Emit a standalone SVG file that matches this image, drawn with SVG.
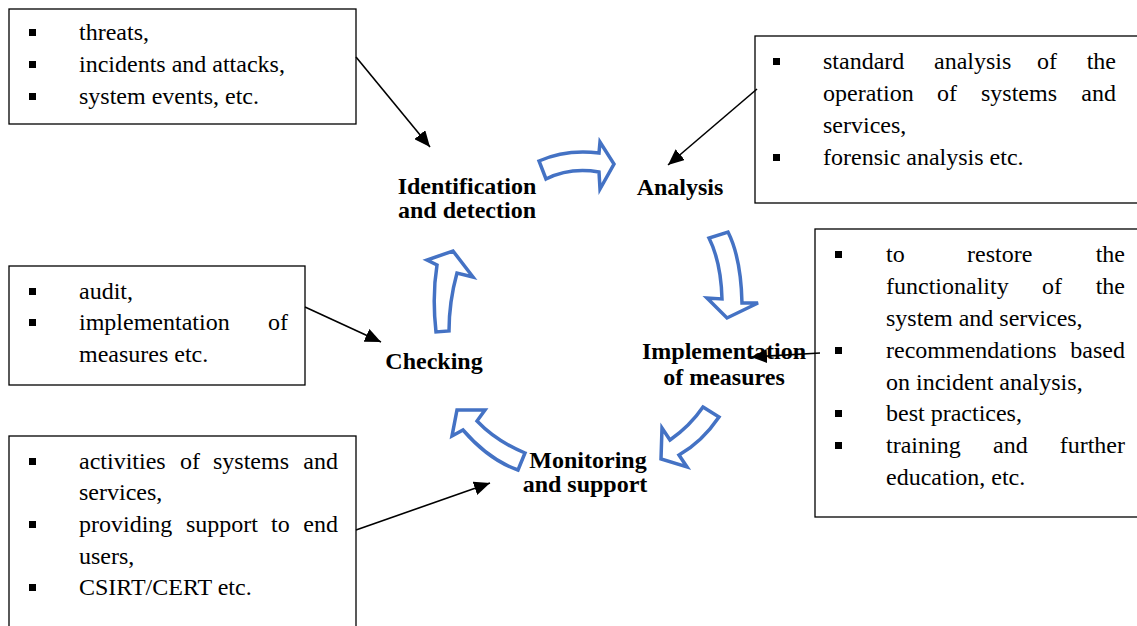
<svg xmlns="http://www.w3.org/2000/svg" width="1137" height="626" viewBox="0 0 1137 626">
  <style>
    .box { fill: #ffffff; stroke: #000000; stroke-width: 1.3; }
    .t { font-family: "Liberation Serif", "Times New Roman", serif; font-size: 24px; fill: #000000; }
    .e { text-anchor: end; }
    .lbl { font-family: "Liberation Serif", "Times New Roman", serif; font-size: 24px; font-weight: bold; fill: #000000; text-anchor: middle; }
    .blk { fill: #ffffff; stroke: #4472C4; stroke-width: 3.5; stroke-linejoin: miter; }
    .con { fill: none; stroke: #000000; stroke-width: 1.6; marker-end: url(#ah); }
  </style>
  <defs>
    <marker id="ah" markerUnits="userSpaceOnUse" markerWidth="18" markerHeight="14" refX="16" refY="7" orient="auto">
      <path d="M0,0 L16,7 L0,14 Z" fill="#000000"/>
    </marker>
    <rect id="bul" width="7" height="7" fill="#000000"/>
  </defs>
  <rect width="1137" height="626" fill="#ffffff"/>

  <!-- cycle block arrows -->
  <g id="cycle">
    <path class="blk" d="M539,161 Q566,149 599,153 L600,142 L614,164 L600,189 L599,172 Q570,167 546,179 Z"/>
    <path class="blk" d="M709,238 Q721,262 722,299 L707,298 L727,318 L758,303 L742,303 Q741,258 728,232 Z"/>
    <path class="blk" d="M703,407 L719,417 Q702,442 679,455 L687,467 L661,459 L662,428 L670,440 Q690,426 703,407 Z"/>
    <path class="blk" d="M525,453 Q496,441 477,421 L485,410 L457,410 L452,436 L463,430 Q489,460 518,470 Z"/>
    <path class="blk" d="M436,332 Q432,296 437,265 L427,260 L453,251 L473,277 L457,273 Q449,302 449,331 Z"/>
  </g>

  <!-- stage labels -->
  <g id="identification">
    <text class="lbl" x="467" y="194">Identification</text>
    <text class="lbl" x="467" y="218">and detection</text>
  </g>
  <g id="analysis">
    <text class="lbl" x="680" y="195">Analysis</text>
  </g>
  <g id="implementation">
    <text class="lbl" x="724" y="359">Implementation</text>
    <text class="lbl" x="724" y="385">of measures</text>
  </g>
  <g id="monitoring">
    <text class="lbl" x="588" y="468">Monitoring</text>
    <text class="lbl" x="585" y="492">and support</text>
  </g>
  <g id="checking">
    <text class="lbl" x="434" y="369">Checking</text>
  </g>

  <!-- note: identification inputs -->
  <g id="note-identification">
    <rect class="box" x="9" y="9" width="347" height="115"/>
    <use href="#bul" x="29" y="29"/>
    <use href="#bul" x="29" y="61"/>
    <use href="#bul" x="29" y="93"/>
    <text class="t" x="79" y="40">threats,</text>
    <text class="t" x="79" y="72">incidents and attacks,</text>
    <text class="t" x="79" y="104">system events, etc.</text>
  </g>

  <!-- note: analysis -->
  <g id="note-analysis">
    <rect class="box" x="755" y="36" width="390" height="167"/>
    <use href="#bul" x="773" y="58"/>
    <use href="#bul" x="773" y="154"/>
    <text class="t" x="823" y="69">standard</text>
    <text class="t" x="934" y="69">analysis</text>
    <text class="t" x="1037" y="69">of</text>
    <text class="t e" x="1116" y="69">the</text>
    <text class="t" x="823" y="101">operation</text>
    <text class="t" x="937" y="101">of</text>
    <text class="t" x="981" y="101">systems</text>
    <text class="t e" x="1116" y="101">and</text>
    <text class="t" x="823" y="133">services,</text>
    <text class="t" x="823" y="165">forensic analysis etc.</text>
  </g>

  <!-- note: implementation of measures -->
  <g id="note-implementation">
    <rect class="box" x="815" y="229" width="330" height="288"/>
    <use href="#bul" x="835" y="251"/>
    <use href="#bul" x="835" y="347"/>
    <use href="#bul" x="835" y="410"/>
    <use href="#bul" x="835" y="442"/>
    <text class="t" x="886" y="262">to</text>
    <text class="t" x="967" y="262">restore</text>
    <text class="t e" x="1125" y="262">the</text>
    <text class="t" x="886" y="294">functionality</text>
    <text class="t" x="1042" y="294">of</text>
    <text class="t e" x="1125" y="294">the</text>
    <text class="t" x="886" y="326">system and services,</text>
    <text class="t" x="886" y="358">recommendations</text>
    <text class="t e" x="1125" y="358">based</text>
    <text class="t" x="886" y="390">on incident analysis,</text>
    <text class="t" x="886" y="421">best practices,</text>
    <text class="t" x="886" y="453">training</text>
    <text class="t" x="993" y="453">and</text>
    <text class="t e" x="1125" y="453">further</text>
    <text class="t" x="886" y="485">education, etc.</text>
  </g>

  <!-- note: checking -->
  <g id="note-checking">
    <rect class="box" x="9" y="266" width="296" height="119"/>
    <use href="#bul" x="29" y="288"/>
    <use href="#bul" x="29" y="319"/>
    <text class="t" x="79" y="299">audit,</text>
    <text class="t" x="79" y="330">implementation</text>
    <text class="t e" x="288" y="330">of</text>
    <text class="t" x="79" y="362">measures etc.</text>
  </g>

  <!-- note: monitoring and support -->
  <g id="note-monitoring">
    <rect class="box" x="9" y="436" width="347" height="200"/>
    <use href="#bul" x="29" y="458"/>
    <use href="#bul" x="29" y="521"/>
    <use href="#bul" x="29" y="584"/>
    <text class="t" x="79" y="469">activities</text>
    <text class="t" x="180" y="469">of</text>
    <text class="t" x="213" y="469">systems</text>
    <text class="t e" x="338" y="469">and</text>
    <text class="t" x="79" y="500">services,</text>
    <text class="t" x="79" y="532">providing</text>
    <text class="t" x="186" y="532">support</text>
    <text class="t" x="271" y="532">to</text>
    <text class="t e" x="338" y="532">end</text>
    <text class="t" x="79" y="564">users,</text>
    <text class="t" x="79" y="595">CSIRT/CERT etc.</text>
  </g>

  <!-- connectors from notes to stages -->
  <g id="connectors">
    <line class="con" x1="356" y1="57" x2="430" y2="147"/>
    <line class="con" x1="757" y1="89" x2="668" y2="165"/>
    <line class="con" x1="820" y1="353" x2="751" y2="357"/>
    <line class="con" x1="305" y1="307" x2="381" y2="342"/>
    <line class="con" x1="356" y1="530" x2="490" y2="483"/>
  </g>
</svg>
